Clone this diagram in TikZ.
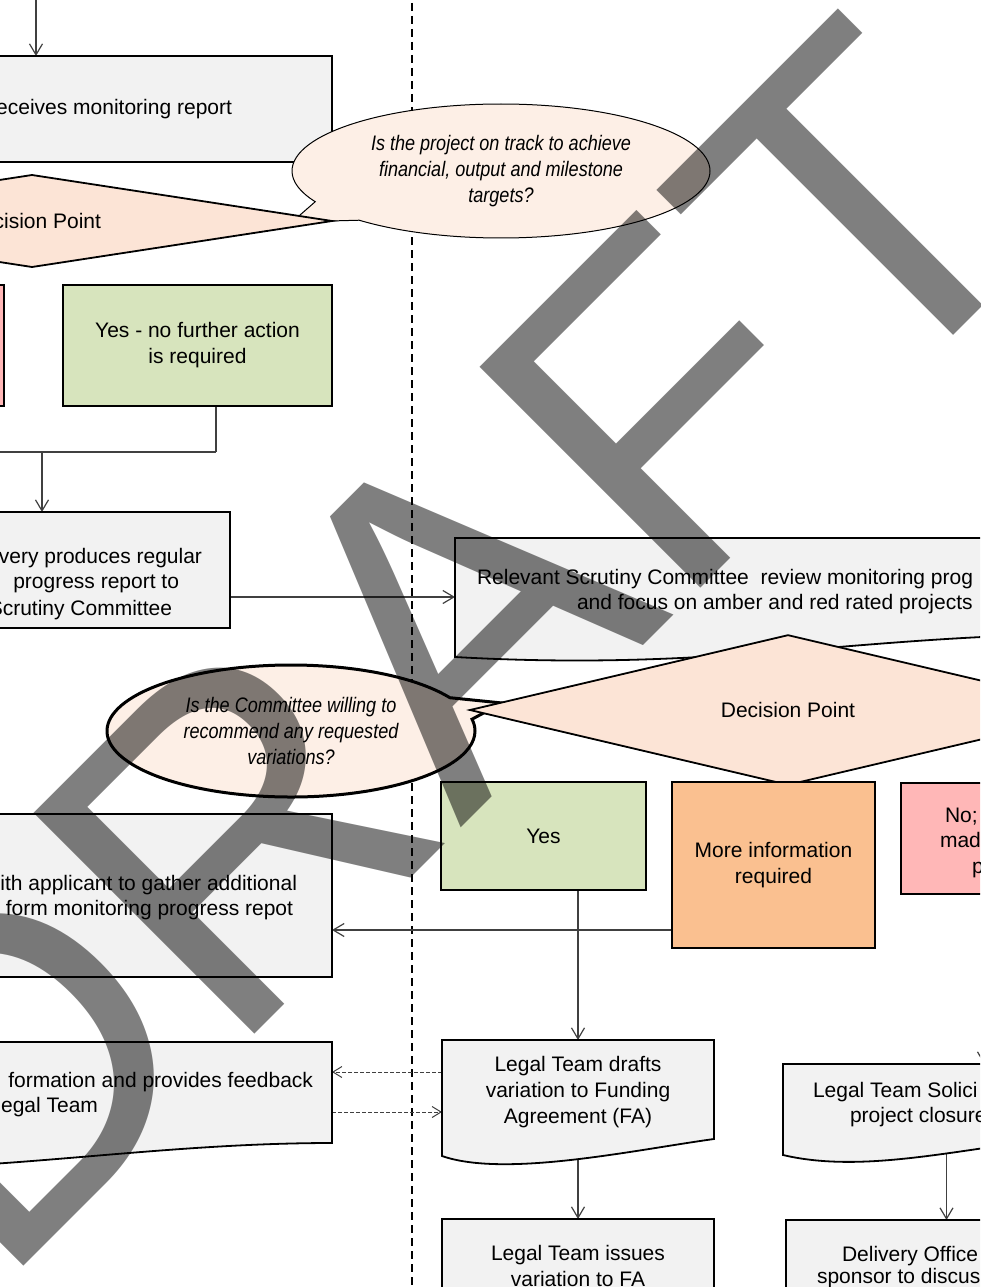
\documentclass[tikz,border=0pt]{standalone}
\usepackage{fontspec}
\setmainfont{Liberation Sans}
\newfontfamily\cfont{Liberation Sans}[FakeStretch=0.86]
\usetikzlibrary{shapes.geometric,shapes.callouts,arrows.meta,calc}
\pgfdeclarelayer{bg}
\pgfdeclarelayer{fg}
\pgfsetlayers{bg,main,fg}
\definecolor{boxgray}{HTML}{F2F2F2}
\definecolor{greenc}{HTML}{D7E4BD}
\definecolor{peach}{HTML}{FCE4D6}
\definecolor{callfill}{HTML}{FDEFE6}
\definecolor{pinkc}{HTML}{FFB7B7}
\definecolor{orangec}{HTML}{FAC090}
\definecolor{lineclr}{HTML}{404040}
\begin{document}
\begin{tikzpicture}[x=1pt,y=-1pt,
  every node/.style={inner sep=0pt, outer sep=0pt},
  font=\fontsize{21}{26}\selectfont,
  bx/.style={draw=black, line width=1.8pt, fill=boxgray, anchor=north west, align=center},
  frame/.style={anchor=north west, draw=none, fill=none},
  docline/.style={draw=black, line width=1.8pt, fill=boxgray},
  dia/.style={diamond, draw=black, line width=1.8pt, fill=peach},
  conn/.style={draw=lineclr, line width=1.2pt},
  arr/.style={conn, -{Straight Barb[length=11pt,width=13pt]}},
  darr/.style={draw=lineclr, line width=1pt, dash pattern=on 4pt off 2pt, -{Straight Barb[length=9pt,width=11pt]}},
  divider/.style={draw=black, line width=1.6pt, dash pattern=on 8pt off 5pt},
  callbase/.style={ellipse callout, draw=black, fill=callfill, align=center, callout pointer arc=20,
     font=\cfont\itshape\fontsize{21}{26}\selectfont},
  tw/.style={anchor=base west},
  te/.style={anchor=base east}
]
\path[use as bounding box] (0,0) rectangle (980,1287);
\begin{scope}
\clip (0,0) rectangle (980,1287);

% helper coordinates
\coordinate (t0) at (36,-10);
\coordinate (j216) at (216,452);
\coordinate (j42) at (42,452);
\coordinate (y597) at (0,597);
\coordinate (y930) at (0,930);
\coordinate (y1072) at (0,1072);
\coordinate (y1112) at (0,1112);
\coordinate (cno) at (984,894);
\coordinate (p1) at (292,222);
\coordinate (p2) at (502,703);

% --- left column top
\node[bx, minimum width=600pt, minimum height=106pt] (recv) at (-268,56) {};
\node[te] (recvT) at (232,115) {eceives monitoring report};
\node[callbase, line width=1pt, minimum width=418pt, minimum height=134pt,
      callout absolute pointer={(p1)}] (q1) at (501,171)
      {Is the project on track to achieve\\financial, output and milestone\\targets?};
\node[dia, minimum width=600pt, minimum height=92pt] (dec1) at (32,221) {};
\node[te] (dec1T) at (101,228) {cision Point};
\node[bx, fill=pinkc, minimum width=204pt, minimum height=121pt] (nol) at (-200,285) {};
\node[bx, fill=greenc, minimum width=269pt, minimum height=121pt] (ynf) at (63,285)
      {Yes - no further action\\is required};
\node[bx, minimum width=530pt, minimum height=116pt] (prod) at (-300,512) {};
\node[te] (prodT1) at (202,563) {very produces regular};
\node[te] (prodT2) at (179,588) {progress report to};
\node[te] (prodT3) at (172,615) {Scrutiny Committee};

% --- relevant scrutiny committee (document shape)
\node[frame, minimum width=645pt, minimum height=98pt] (rel) at (455,538) {};
\draw[docline] (455,538) -- (1100,538) -- (1100,634)
   .. controls (860,634) and (720,672) .. (455,657) -- cycle;
\node[tw] (relT1) at (477,584) {Relevant Scrutiny Committee\ \ review monitoring prog};
\node[tw] (relT2) at (577,609) {and focus on amber and red rated projects};

% --- second decision
\node[callbase, line width=3pt, minimum width=368pt, minimum height=132pt,
      callout absolute pointer={(p2)}] (q2) at (291,731)
      {Is the Committee willing to\\recommend any requested\\variations?};
\node[dia, minimum width=636pt, minimum height=90pt] (dec2) at (788,710) {Decision Point};

\node[bx, fill=greenc, minimum width=205pt, minimum height=108pt] (yes) at (441,782) {Yes};
\node[bx, fill=orangec, minimum width=203pt, minimum height=166pt] (more) at (672,782)
      {More information\\required};
\node[bx, fill=pinkc, minimum width=190pt, minimum height=111pt] (nobox) at (901,783) {};
\node[tw] (noT1) at (945,822) {No;};
\node[tw] (noT2) at (940,847) {mad};
\node[tw] (noT3) at (972,873) {p};

% --- applicant box
\node[bx, minimum width=602pt, minimum height=163pt] (appl) at (-270,814) {};
\node[te] (applT1) at (297,890) {ith applicant to gather additional};
\node[te] (applT2) at (293,915) {form monitoring progress repot};

% --- feedback document
\node[frame, minimum width=602pt, minimum height=101pt] (fb) at (-270,1042) {};
\draw[docline] (-270,1042) -- (332,1042) -- (332,1143)
   .. controls (120,1143) and (-60,1185) .. (-270,1162) -- cycle;
\node[te] (fbT1) at (313,1087) {formation and provides feedback};
\node[te] (fbT2) at (98,1112) {egal Team};

% --- legal drafts document
\node[frame, minimum width=272pt, minimum height=99pt] (drafts) at (442,1040) {};
\draw[docline] (442,1040) -- (714,1040) -- (714,1139)
   .. controls (634,1150) and (505,1178) .. (442,1156) -- cycle;
\node[align=center] (draftsT) at (578,1092) {Legal Team drafts\\variation to Funding\\Agreement (FA)};

% --- legal solicitor document
\node[frame, minimum width=327pt, minimum height=72pt] (sol) at (783,1064) {};
\draw[docline] (783,1064) -- (1110,1064) -- (1110,1136)
   .. controls (1000,1136) and (880,1178) .. (783,1155) -- cycle;
\node[tw] (solT1) at (813,1097) {Legal Team Solici};
\node[tw] (solT2) at (850,1122) {project closure};

% --- bottom boxes
\node[bx, minimum width=272pt, minimum height=112pt] (issues) at (442,1219) {};
\node[align=center] (issuesT) at (578,1266) {Legal Team issues\\variation to FA};
\node[bx, minimum width=322pt, minimum height=112pt] (deliv) at (786,1220) {};
\node[tw] (delivT1) at (842,1261) {Delivery Office};
\node[tw] (delivT2) at (817,1283) {sponsor to discus};
\end{scope}

% --- connectors under the shapes
\begin{pgfonlayer}{bg}
\begin{scope}
\clip (0,0) rectangle (980,1287);
\draw[divider] (412,-10) -- (412,1300);
\draw[arr] (t0) -- (t0 |- recv.north);
\draw[conn] (nol.south) |- (j216);
\draw[conn] (j216) -- (j216 |- ynf.south);
\draw[arr] (j42) -- (j42 |- prod.north);
\draw[arr] (prod.east |- y597) -- (rel.west |- y597);
\draw[arr] (drafts.north |- yes.south) -- (drafts.north);
\draw[arr] (more.west |- y930) -- (appl.east |- y930);
\draw[darr] (drafts.west |- y1072) -- (fb.east |- y1072);
\draw[darr] (fb.east |- y1112) -- (drafts.west |- y1112);
\draw[arr] (drafts.center) -- (issues.north);
\draw[arr] (cno) -- (cno |- sol.north);
\draw[arr] (sol.center) -- (sol.center |- deliv.north);
\end{scope}
\end{pgfonlayer}

% --- watermark
\begin{pgfonlayer}{fg}
\begin{scope}
\clip (0,0) rectangle (980,1287);
\node[anchor=base west, rotate=45, text=black, text opacity=0.5,
      font=\fontsize{454}{454}\selectfont] (wm) at (-3,1292) {DRAFT};
\end{scope}
\end{pgfonlayer}
\end{tikzpicture}
\end{document}
